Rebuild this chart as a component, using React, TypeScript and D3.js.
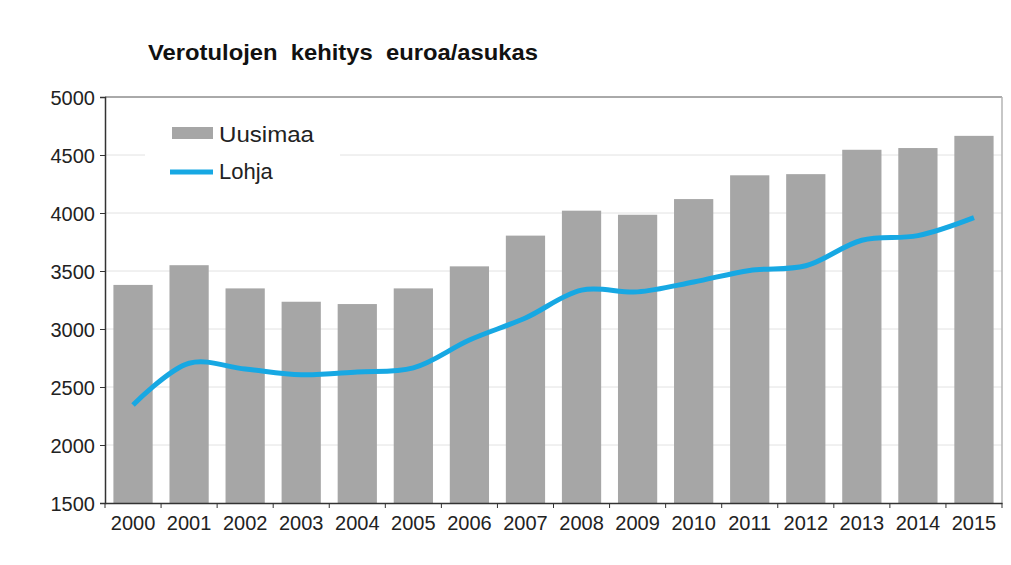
import React, { useEffect, useRef } from "react";
import * as d3 from "d3";

const years = ["2000", "2001", "2002", "2003", "2004", "2005", "2006", "2007", "2008", "2009", "2010", "2011", "2012", "2013", "2014", "2015"];
const uusimaa = [3380, 3550, 3350, 3235, 3215, 3350, 3540, 3805, 4020, 3985, 4120, 4325, 4335, 4545, 4560, 4665];
const lohja = [2345, 2705, 2655, 2605, 2630, 2665, 2905, 3095, 3335, 3320, 3405, 3505, 3545, 3765, 3805, 3960];
const yTicks = [1500, 2000, 2500, 3000, 3500, 4000, 4500, 5000];

const FONT = "Arial, 'Liberation Sans', sans-serif";

const App = () => {
  const svgRef = useRef<SVGSVGElement>(null);

  useEffect(() => {
    const width = 1011;
    const height = 565;
    const m = { left: 105, right: 1002, top: 97, bottom: 503 };

    const svg = d3.select(svgRef.current);
    svg.selectAll("*").remove();
    svg.attr("width", width).attr("height", height);

    svg.append("rect").attr("width", width).attr("height", height).attr("fill", "#fff");

    const x = d3.scaleBand().domain(years).range([m.left, m.right]).paddingInner(0.3).paddingOuter(0.15);
    const y = d3.scaleLinear().domain([1500, 5000]).range([m.bottom, m.top]);

    // gridlines
    svg
      .append("g")
      .selectAll("line")
      .data(yTicks.slice(1, -1))
      .join("line")
      .attr("x1", m.left)
      .attr("x2", m.right)
      .attr("y1", (d) => y(d))
      .attr("y2", (d) => y(d))
      .attr("stroke", "#e2e2e2")
      .attr("stroke-width", 1);

    // frame
    svg.append("line").attr("x1", m.left).attr("x2", m.right).attr("y1", m.top).attr("y2", m.top).attr("stroke", "#555");
    svg.append("line").attr("x1", m.right).attr("x2", m.right).attr("y1", m.top).attr("y2", m.bottom).attr("stroke", "#b5b5b5").attr("stroke-width", 1.5);

    // bars
    svg
      .append("g")
      .selectAll("rect")
      .data(uusimaa)
      .join("rect")
      .attr("x", (_, i) => x(years[i])!)
      .attr("width", x.bandwidth())
      .attr("y", (d) => y(d))
      .attr("height", (d) => m.bottom - y(d))
      .attr("fill", "#a6a6a6");

    // legend background
    svg.append("rect").attr("x", 145).attr("y", 110).attr("width", 195).attr("height", 80).attr("fill", "#fff");

    // line
    const line = d3
      .line<number>()
      .x((_, i) => x(years[i])! + x.bandwidth() / 2)
      .y((d) => y(d))
      .curve(d3.curveCatmullRom.alpha(0.5));
    svg
      .append("path")
      .datum(lohja)
      .attr("d", line)
      .attr("fill", "none")
      .attr("stroke", "#17a8e3")
      .attr("stroke-width", 5)
      .attr("stroke-linejoin", "round");

    // y axis
    const yAxis = svg
      .append("g")
      .attr("transform", `translate(${m.left},0)`)
      .call(d3.axisLeft(y).tickValues(yTicks).tickSize(5).tickPadding(5).tickFormat(d3.format("d")));
    yAxis.select(".domain").attr("stroke", "#333").attr("stroke-width", 1.5);
    yAxis.selectAll(".tick line").attr("stroke", "#333");
    yAxis.selectAll("text").attr("fill", "#222").attr("font-family", FONT).attr("font-size", 20).attr("dy", "0.35em");

    // x axis
    const xAxis = svg
      .append("g")
      .attr("transform", `translate(0,${m.bottom})`)
      .call(d3.axisBottom(x).tickSize(0).tickPadding(13));
    xAxis.select(".domain").attr("stroke", "#333").attr("stroke-width", 1.5);
    xAxis.selectAll("text").attr("fill", "#222").attr("font-family", FONT).attr("font-size", 20);

    const edges = d3.range(years.length + 1).map((i) => m.left + (i * (m.right - m.left)) / years.length);
    svg
      .append("g")
      .selectAll("line")
      .data(edges)
      .join("line")
      .attr("x1", (d) => d)
      .attr("x2", (d) => d)
      .attr("y1", m.bottom)
      .attr("y2", m.bottom + 5)
      .attr("stroke", "#333");

    // legend
    const legend = svg.append("g").attr("font-family", FONT).attr("font-size", 22).attr("fill", "#222");
    legend.append("rect").attr("x", 172).attr("y", 127).attr("width", 41).attr("height", 12).attr("fill", "#a6a6a6");
    legend.append("text").attr("x", 219).attr("y", 142).attr("textLength", 95).attr("lengthAdjust", "spacingAndGlyphs").text("Uusimaa");
    legend.append("line").attr("x1", 170).attr("x2", 213).attr("y1", 172).attr("y2", 172).attr("stroke", "#17a8e3").attr("stroke-width", 5);
    legend.append("text").attr("x", 219).attr("y", 179).text("Lohja");

    // title
    svg
      .append("text")
      .attr("x", 148)
      .attr("y", 60)
      .attr("textLength", 390)
      .attr("lengthAdjust", "spacingAndGlyphs")
      .text("Verotulojen  kehitys  euroa/asukas")
      .attr("fill", "#111")
      .attr("font-family", FONT)
      .attr("font-size", 22)
      .attr("font-weight", "bold")
      .style("white-space", "pre");
  }, []);

  return <svg ref={svgRef} style={{ position: "absolute", left: 0, top: 0 }} />;
};

export default App;
